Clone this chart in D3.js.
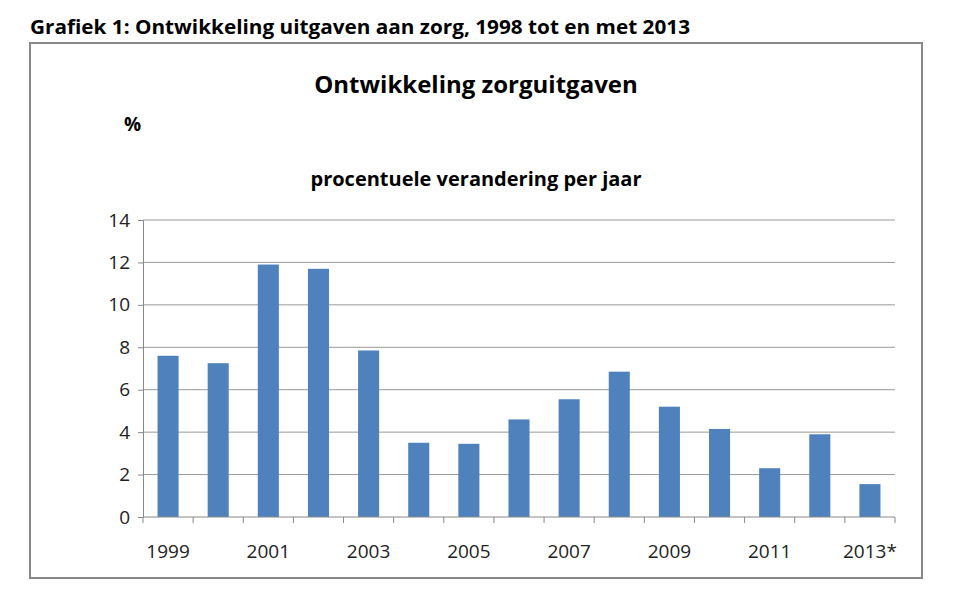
<!DOCTYPE html>
<html>
<head>
<meta charset="utf-8">
<script src="https://cdn.jsdelivr.net/npm/d3@7"></script>
<style>
body { margin: 0; background: #fff; font-family: "Open Sans", "DejaVu Sans", sans-serif; }
</style>
</head>
<body>
<svg id="chart"></svg>
<script>
// values
const years = ["1999","2000","2001","2002","2003","2004","2005","2006","2007","2008","2009","2010","2011","2012","2013*"];
const growth = [7.6, 7.25, 11.9, 11.7, 7.85, 3.5, 3.45, 4.6, 5.55, 6.85, 5.2, 4.15, 2.3, 3.9, 1.55];
const yTicks = [0, 2, 4, 6, 8, 10, 12, 14];

const W = 964, H = 602;
const margin = { top: 220, right: 69, bottom: 85, left: 143 };
const width = W - margin.left - margin.right;
const height = H - margin.top - margin.bottom;

const svg = d3.select("#chart").attr("width", W).attr("height", H);

svg.append("text")
	.attr("x", 30).attr("y", 34)
	.attr("font-size", 20).attr("font-weight", "bold")
	.attr("textLength", 660).attr("lengthAdjust", "spacingAndGlyphs")
	.text("Grafiek 1: Ontwikkeling uitgaven aan zorg, 1998 tot en met 2013");

// outer frame
svg.append("rect")
	.attr("x", 30).attr("y", 43).attr("width", 892).attr("height", 535)
	.attr("fill", "none").attr("stroke", "#888").attr("stroke-width", 2);

svg.append("text")
	.attr("x", 476).attr("y", 93).attr("text-anchor", "middle")
	.attr("font-size", 24).attr("font-weight", "bold")
	.text("Ontwikkeling zorguitgaven");

svg.append("text")
	.attr("x", 124).attr("y", 131)
	.attr("font-size", 19).attr("font-weight", "bold")
	.text("%");

svg.append("text")
	.attr("x", 476).attr("y", 186).attr("text-anchor", "middle")
	.attr("font-size", 20).attr("font-weight", "bold")
	.text("procentuele verandering per jaar");

const chartArea = svg.append("g")
	.attr("transform", `translate(${margin.left},${margin.top})`);

const xScale = d3.scaleBand().domain(years).range([0, width]).paddingInner(0.58).paddingOuter(0.29);
const yScale = d3.scaleLinear().domain([0, 14]).range([height, 0]);

// gridlines
chartArea.selectAll(".grid")
	.data(yTicks.slice(1))
	.join("line")
	.attr("x1", 0).attr("x2", width)
	.attr("y1", d => yScale(d)).attr("y2", d => yScale(d))
	.attr("stroke", "#999").attr("stroke-width", 1);

chartArea.selectAll(".bar")
	.data(growth)
	.join("rect")
	.attr("x", (d, i) => xScale(years[i]))
	.attr("width", xScale.bandwidth())
	.attr("y", d => yScale(d))
	.attr("height", d => height - yScale(d))
	.attr("fill", "#4f81bd");

// y axis
const yAxisG = chartArea.append("g")
	.call(d3.axisLeft(yScale).tickValues(yTicks).tickSize(5).tickPadding(8));
yAxisG.selectAll("text").attr("font-size", 19).attr("fill", "#222").attr("font-family", "Open Sans, sans-serif");
yAxisG.selectAll("line, path").attr("stroke", "#888");

// x axis: tick marks at category boundaries, labels at every other year
const xAxisG = chartArea.append("g").attr("transform", `translate(0,${height})`);
xAxisG.append("line").attr("x1", 0).attr("x2", width).attr("stroke", "#888");
xAxisG.selectAll(".tk")
	.data(d3.range(years.length + 1))
	.join("line")
	.attr("x1", i => i * width / years.length).attr("x2", i => i * width / years.length)
	.attr("y1", 0).attr("y2", 6)
	.attr("stroke", "#888");
xAxisG.selectAll(".lbl")
	.data(years.filter((d, i) => i % 2 === 0))
	.join("text")
	.attr("x", d => xScale(d) + xScale.bandwidth() / 2)
	.attr("y", 41)
	.attr("text-anchor", "middle")
	.attr("font-size", 19).attr("fill", "#222")
	.text(d => d);
</script>
</body>
</html>
